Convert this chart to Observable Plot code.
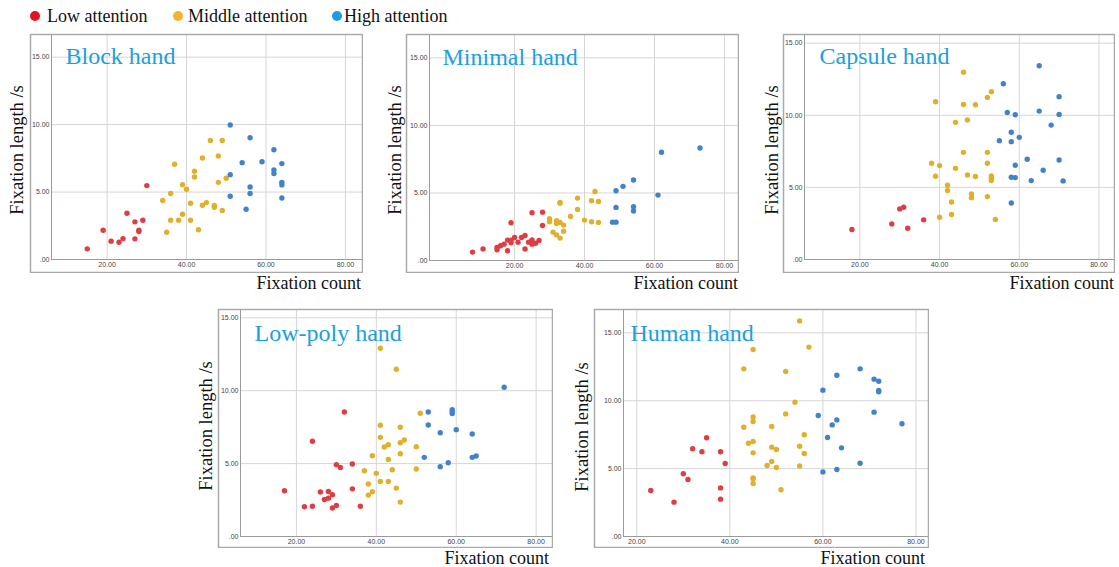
<!DOCTYPE html>
<html><head><meta charset="utf-8">
<script src="https://cdn.jsdelivr.net/npm/d3@7"></script>
<script src="https://cdn.jsdelivr.net/npm/@observablehq/plot@0.6"></script>
<style>
body{margin:0;background:#fff;}
#root{position:relative;width:1119px;height:567px;overflow:hidden;font-family:"Liberation Serif","Times New Roman",serif;color:#111;}
.pan{position:absolute;}
.ylab{position:absolute;font-size:18.5px;line-height:1;white-space:nowrap;transform:translate(-50%,-50%) rotate(-90deg);}
.xlab{position:absolute;font-size:18px;line-height:1;white-space:nowrap;transform:translateX(-100%);}
.leg{position:absolute;top:7px;font-size:18px;line-height:1;white-space:nowrap;}
.legdot{position:absolute;width:10px;height:10px;border-radius:50%;top:11px;}
</style></head><body><div id="root"></div>
<script>
// ---- data ----
const groups = ["Low attention", "Middle attention", "High attention"];
const panelTitles = ["Block hand", "Minimal hand", "Capsule hand", "Low-poly hand", "Human hand"];
const xTicks = [20, 40, 60, 80];
const yTicks = [0, 5, 10, 15];
const xAxisLabel = "Fixation count";
const yAxisLabel = "Fixation length /s";

const blockLow = [[15,0.79],[19,2.17],[21,1.36],[23,1.28],[24,1.55],[25,3.43],[27,2.79],[27,1.53],[28,2.17],[28,2.07],[29,2.91],[30,5.48]];
const blockMid = [[34,4.37],[35,2.02],[36,4.89],[36,2.91],[37,7.06],[38,2.91],[39,5.55],[39,3.36],[40,5.21],[41,4.17],[41,2.91],[42,6.54],[42,6.12],[43,2.20],[44,7.53],[44,4.02],[45,4.22],[46,8.83],[47,4.00],[47,3.87],[48,7.67],[48,5.72],[49,8.83],[49,3.63],[50,6.02]];
const blockHigh = [[51,9.97],[51,6.29],[51,4.69],[54,7.18],[55,3.73],[56,9.03],[56,5.38],[56,4.89],[59,7.25],[62,8.14],[62,6.64],[62,6.37],[64,7.11],[64,5.72],[64,5.53],[64,4.56]];

const minimalLow = [[8,0.62],[11,0.86],[15,0.79],[15,0.96],[16,1.09],[17,1.21],[18,1.51],[18,0.72],[19,2.79],[19,1.51],[19,1.31],[20,1.70],[21,1.36],[22,1.70],[23,1.85],[23,0.86],[24,1.36],[25,3.53],[25,1.53],[25,1.21],[26,1.28],[27,1.48],[28,3.58],[28,2.59]];
const minimalMid = [[30,3.09],[30,2.87],[31,2.10],[32,2.94],[32,2.74],[32,1.90],[33,2.82],[33,4.30],[33,4.23],[33,1.66],[34,2.62],[34,2.17],[36,3.26],[38,4.62],[38,3.78],[40,2.99],[42,2.87],[42,4.42],[43,5.11],[44,4.37],[44,2.82]];
const minimalHigh = [[48,2.84],[49,2.84],[49,3.93],[49,5.16],[51,5.49],[54,5.96],[54,3.98],[54,3.66],[61,4.84],[62,8.01],[73,8.33]];

const capsuleLow = [[18,2.08],[28,2.47],[30,3.51],[31,3.62],[32,2.17],[36,2.75]];
const capsuleMid = [[38,6.67],[39,10.94],[39,5.77],[40,6.51],[40,2.93],[42,5.15],[42,4.78],[43,3.99],[43,3.12],[44,9.51],[44,6.32],[46,12.99],[46,10.75],[46,7.43],[47,9.67],[47,5.86],[48,4.55],[48,4.29],[49,10.73],[49,5.75],[52,11.24],[52,7.43],[52,6.67],[52,4.36],[53,11.63],[53,5.79],[53,5.63],[53,5.47],[54,2.77]];
const capsuleHigh = [[55,8.24],[56,12.19],[57,10.20],[58,8.82],[58,8.17],[58,5.70],[58,3.92],[59,10.04],[59,6.53],[59,5.68],[60,8.47],[62,6.95],[63,5.47],[65,13.43],[65,10.29],[66,6.19],[68,9.32],[70,11.29],[70,10.06],[70,6.90],[71,5.45]];

const lowpolyLow = [[17,3.14],[22,2.04],[24,6.53],[24,2.08],[26,3.05],[27,2.54],[28,2.63],[28,3.09],[29,2.86],[29,1.95],[30,4.92],[30,2.13],[31,4.74],[32,8.54],[34,4.97],[34,3.27],[36,2.08]];
const lowpolyMid = [[37,4.51],[38,3.60],[38,2.84],[39,5.54],[39,3.07],[40,4.33],[41,12.91],[41,7.63],[41,6.80],[41,3.78],[42,6.14],[43,6.30],[43,5.29],[43,3.78],[44,4.58],[45,11.47],[45,3.32],[46,7.49],[46,6.43],[46,5.68],[46,2.36],[47,6.62],[50,6.16],[50,4.63],[51,8.45]];
const lowpolyHigh = [[52,5.43],[53,8.54],[53,7.65],[56,7.12],[56,4.79],[58,5.06],[59,8.70],[59,8.56],[59,8.43],[60,7.33],[64,7.03],[64,5.43],[65,5.52],[72,10.24]];

const humanLow = [[23,3.39],[28,2.53],[30,4.62],[31,4.20],[32,6.46],[34,6.24],[35,7.27],[38,6.24],[38,3.58],[38,2.75],[39,5.38]];
const humanMid = [[43,8.05],[43,12.35],[44,6.87],[45,13.77],[45,8.81],[45,8.47],[45,7.00],[45,6.16],[45,4.32],[45,4.25],[45,3.90],[48,5.23],[49,8.10],[49,6.58],[49,5.52],[50,6.41],[50,5.08],[51,3.44],[52,12.15],[52,9.03],[54,9.89],[55,15.88],[55,6.65],[55,5.20],[56,7.49],[56,6.11],[57,13.95]];
const humanHigh = [[59,8.91],[60,10.78],[60,4.76],[61,7.29],[62,8.22],[63,11.88],[63,8.59],[63,4.93],[64,6.53],[68,12.35],[68,5.40],[71,11.59],[71,9.16],[72,11.44],[72,10.75],[72,10.66],[77,8.30]];

const panelData = [
  [blockLow, blockMid, blockHigh],
  [minimalLow, minimalMid, minimalHigh],
  [capsuleLow, capsuleMid, capsuleHigh],
  [lowpolyLow, lowpolyMid, lowpolyHigh],
  [humanLow, humanMid, humanHigh]
];

// ---- styles / layout ----
const pointColors = ["#de3d42", "#e1b02b", "#4282cb"];
const legendColors = ["#e5121f", "#f3b32f", "#1e9be3"];
const titleColor = "#1ca0dd";
const layout = [
  {L:30,  T:34,  R:362,  B:272, ax:51,  ay:259, xd:[6,84.3],     yd:[0,16.68], tdx:14, tdy:12, ylx:16.5,  yly:150, xlr:361,  xlt:274},
  {L:406, T:34,  R:738,  B:272, ax:429, ay:260, xd:[-4.3,84],    yd:[0,16.73], tdx:13, tdy:13, ylx:394.5, yly:150, xlr:738,  xlt:274},
  {L:783, T:34,  R:1114, B:272, ax:804, ay:259, xd:[6.1,83.9],   yd:[0,15.6],  tdx:15, tdy:12, ylx:771.5, yly:150, xlr:1114, xlt:274},
  {L:218, T:309, R:552,  B:547, ax:240, ay:536, xd:[6,84.1],     yd:[0,15.57], tdx:14, tdy:14, ylx:205.5, yly:426, xlr:549,  xlt:549},
  {L:594, T:309, R:928,  B:547, ax:623, ay:536, xd:[17.14,82.7], yd:[0,16.72], tdx:7,  tdy:14, ylx:581.5, yly:427, xlr:925,  xlt:549}
];

const root = document.getElementById("root");
const fmt = d => d === 0 ? ".00" : d.toFixed(2);

layout.forEach((c, i) => {
  const data = [];
  panelData[i].forEach((arr, g) => arr.forEach(([x, y]) => data.push({x, y, g: groups[g]})));
  const ml = c.ax - c.L + 1, mb = c.B - c.ay + 1;
  const svg = Plot.plot({
    width: c.R - c.L + 2,
    height: c.B - c.T + 2,
    marginLeft: ml, marginBottom: mb, marginTop: 1, marginRight: 1,
    style: {background: "transparent", fontFamily: "'Liberation Sans', Arial, sans-serif", fontSize: "7px", color: "#444"},
    x: {domain: c.xd, ticks: xTicks, tickFormat: fmt, tickSize: 0, tickPadding: 3, label: null},
    y: {domain: c.yd, ticks: yTicks, tickFormat: fmt, tickSize: 0, tickPadding: 2, label: null},
    color: {domain: groups, range: pointColors},
    marks: [
      Plot.ruleX(xTicks, {stroke: "#d6d6d6", strokeWidth: 1}),
      Plot.ruleY(yTicks.filter(v => v > 0), {stroke: "#d6d6d6", strokeWidth: 1}),
      Plot.ruleX([c.xd[0]], {stroke: "#9a9a9a", strokeWidth: 1}),
      Plot.ruleY([0], {stroke: "#9a9a9a", strokeWidth: 1}),
      Plot.frame({stroke: "#aaaaaa", strokeWidth: 1.5, insetLeft: -(ml - 1), insetBottom: -(mb - 1)}),
      Plot.dot(data, {x: "x", y: "y", fill: "g", r: 2.7}),
      Plot.text([panelTitles[i]], {text: d => d, frameAnchor: "top-left", textAnchor: "start", lineAnchor: "top",
        dx: c.tdx, dy: c.tdy, fill: titleColor, fontSize: 24, fontFamily: "'Liberation Serif', 'Times New Roman', serif"})
    ]
  });
  const wrap = document.createElement("div");
  wrap.className = "pan";
  wrap.style.left = (c.L - 1) + "px";
  wrap.style.top = (c.T - 1) + "px";
  wrap.appendChild(svg);
  root.appendChild(wrap);

  const yl = document.createElement("div");
  yl.className = "ylab"; yl.textContent = yAxisLabel;
  yl.style.left = c.ylx + "px"; yl.style.top = c.yly + "px";
  root.appendChild(yl);

  const xl = document.createElement("div");
  xl.className = "xlab"; xl.textContent = xAxisLabel;
  xl.style.left = c.xlr + "px"; xl.style.top = c.xlt + "px";
  root.appendChild(xl);
});

// legend
const legPos = [{dot:30, txt:47}, {dot:173, txt:188}, {dot:332, txt:344}];
groups.forEach((g, i) => {
  const d = document.createElement("div");
  d.className = "legdot"; d.style.left = legPos[i].dot + "px"; d.style.background = legendColors[i];
  root.appendChild(d);
  const t = document.createElement("div");
  t.className = "leg"; t.style.left = legPos[i].txt + "px"; t.textContent = g;
  root.appendChild(t);
});
</script>
</body></html>
